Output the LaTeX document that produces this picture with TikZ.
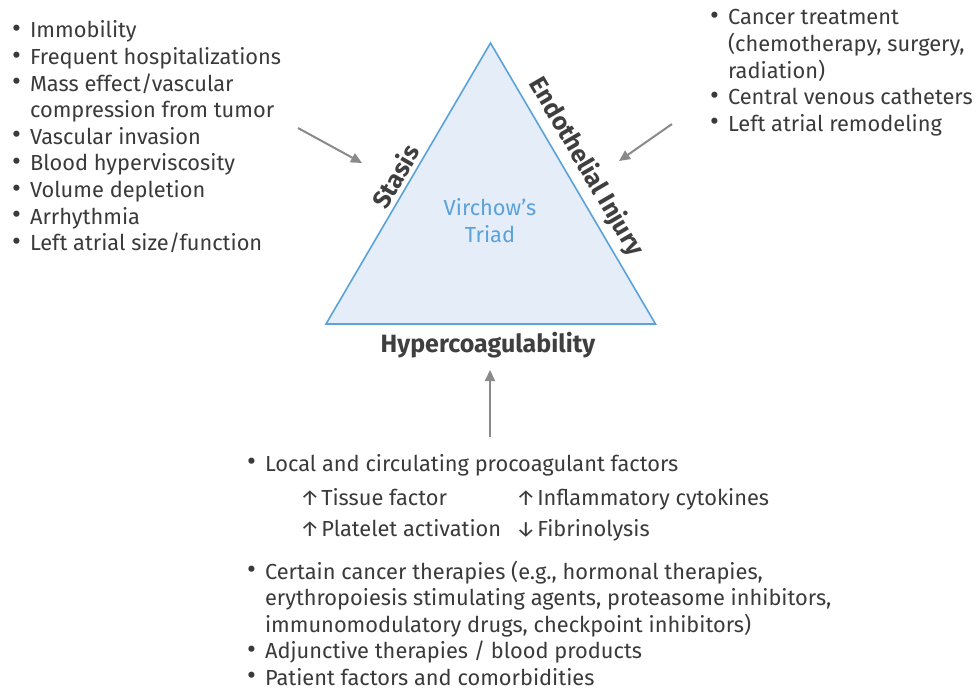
\documentclass[tikz,border=0pt]{standalone}
\usepackage{fontspec}
\setmainfont{Fira Sans}
\usetikzlibrary{arrows.meta}
\definecolor{txt}{HTML}{3A3A3A}
\definecolor{lbl}{HTML}{3F3F3F}
\definecolor{triedge}{HTML}{5AA2DA}
\definecolor{trifill}{HTML}{E4EDF8}
\definecolor{arrowgray}{HTML}{8A8A8A}
\newcommand{\bul}{\raisebox{0.5pt}{\scalebox{1.25}{\textbullet}}}
\newcommand{\up}{↑\hspace{1.5pt}}
\newcommand{\down}{↓\hspace{1.5pt}}
\begin{document}
\begin{tikzpicture}[x=1pt,y=-1pt,
  listtext/.style={anchor=base west, inner sep=0pt, text=txt,
    font=\fontsize{21.8}{26.6}\selectfont},
  sidelabel/.style={inner sep=0pt, text=lbl, font=\fontsize{25}{28}\selectfont\bfseries},
  triadtext/.style={inner sep=0pt, text=triedge, align=center,
    font=\fontsize{21.8}{27}\selectfont},
  feed/.style={draw=arrowgray, line width=2pt,
    -{Triangle[length=11pt,width=10pt]}}
]
\useasboundingbox (0,0) rectangle (979,690);

% the triad
\coordinate (apex) at (490.5,43);
\coordinate (bl) at (326,324);
\coordinate (br) at (655.5,324);
\draw[draw=triedge, fill=trifill, line width=1.6pt, line join=miter] (apex) -- (bl) -- (br) -- cycle;
\node[triadtext] (virchow) at (490,221) {Virchow's\\Triad};

% side labels
\node[sidelabel, rotate=59.7] (stasis) at (395,176) {Stasis};
\node[sidelabel, rotate=-59.7] (endo) at (586,167) {Endothelial Injury};
\node[sidelabel] (hyper) at (488,345) {Hypercoagulability};

% stasis factors
\node[listtext] (stasislist) at (12,38) {\begin{tabular}[t]{@{}l@{\hspace{9pt}}l@{}}
\bul & Immobility\\
\bul & Frequent hospitalizations\\
\bul & Mass effect/vascular\\
     & compression from tumor\\
\bul & Vascular invasion\\
\bul & Blood hyperviscosity\\
\bul & Volume depletion\\
\bul & Arrhythmia\\
\bul & Left atrial size/function
\end{tabular}};

% endothelial injury factors
\node[listtext] (endolist) at (710,25) {\begin{tabular}[t]{@{}l@{\hspace{9pt}}l@{}}
\bul & Cancer treatment\\
     & (chemotherapy, surgery,\\
     & radiation)\\
\bul & Central venous catheters\\
\bul & Left atrial remodeling
\end{tabular}};

% hypercoagulability factors
\node[listtext] (proco) at (247,471) {\bul\hspace{9pt}Local and circulating procoagulant factors};
\node[listtext] (tf) at (300,505) {\up Tissue factor};
\node[listtext] (infl) at (516,505) {\up Inflammatory cytokines};
\node[listtext] (plt) at (300,536) {\up Platelet activation};
\node[listtext] (fib) at (516,536) {\down Fibrinolysis};
\node[listtext] (hyperlist) at (247,579) {\begin{tabular}[t]{@{}l@{\hspace{9pt}}l@{}}
\bul & Certain cancer therapies (e.g., hormonal therapies,\\
     & erythropoiesis stimulating agents, proteasome inhibitors,\\
     & immunomodulatory drugs, checkpoint inhibitors)\\
\bul & Adjunctive therapies / blood products\\
\bul & Patient factors and comorbidities
\end{tabular}};

% arrows into the triad
\coordinate (sfrom) at (298,128);
\coordinate (sto) at (362,163);
\coordinate (efrom) at (672,124);
\coordinate (eto) at (619,161);
\coordinate (hfrom) at (490,437);
\coordinate (hto) at (490,370);
\draw[feed] (sfrom) -- (sto);
\draw[feed] (efrom) -- (eto);
\draw[feed] (hfrom) -- (hto);
\end{tikzpicture}
\end{document}
